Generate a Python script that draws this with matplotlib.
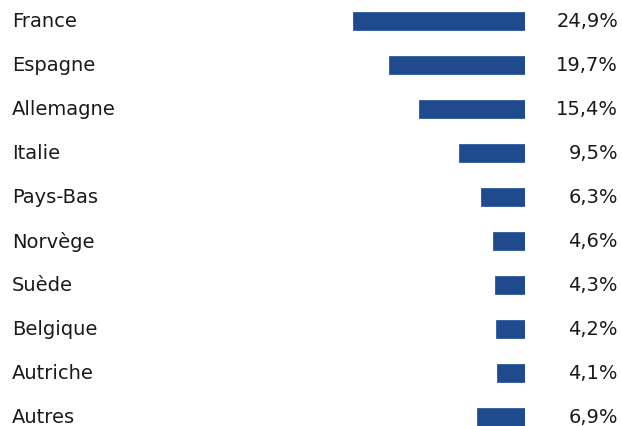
import matplotlib
matplotlib.use('Agg')
import matplotlib.pyplot as plt
from matplotlib.transforms import blended_transform_factory

# Données
pays = ['France', 'Espagne', 'Allemagne', 'Italie', 'Pays-Bas',
        'Norvège', 'Suède', 'Belgique', 'Autriche', 'Autres']
parts = [24.9, 19.7, 15.4, 9.5, 6.3, 4.6, 4.3, 4.2, 4.1, 6.9]
etiquettes = ['24,9%', '19,7%', '15,4%', '9,5%', '6,3%',
              '4,6%', '4,3%', '4,2%', '4,1%', '6,9%']

W, H = 622, 427
fig = plt.figure(figsize=(W / 100, H / 100), dpi=100)
fig.patch.set_facecolor('white')

# Axe : barres alignées à droite (fin à x=525 px), 44 px par ligne
row = 44
ax_h = row * len(pays)
ax = fig.add_axes([0, (H - ax_h) / H, 525 / W, ax_h / H])
ax.set_xlim(-76, 0)
ax.set_ylim(len(pays) - 0.5, -0.5)
ax.axis('off')

y = list(range(len(pays)))
ax.barh(y, [-p for p in parts], left=0, height=0.41, color='#1f4b8e',
        edgecolor='#2d5a9a', linewidth=0.6)

police = 'DejaVu Sans'
trans = blended_transform_factory(fig.transFigure, ax.transData)
for i, (nom, lab) in enumerate(zip(pays, etiquettes)):
    ax.text(12 / W, i, nom, transform=trans, ha='left', va='center',
            fontsize=14, color='#1a1a1a', family=police, clip_on=False)
    ax.text(618 / W, i, lab, transform=trans, ha='right', va='center',
            fontsize=14, color='#1a1a1a', family=police, clip_on=False)

fig.savefig('out.png', dpi=100, facecolor='white')
